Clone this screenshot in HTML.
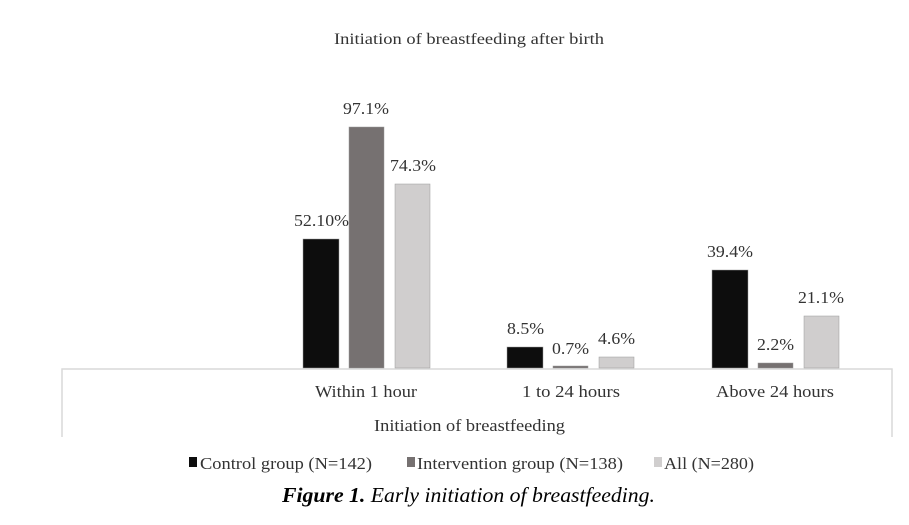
<!DOCTYPE html>
<html><head><style>
body{margin:0;background:#fff;}
svg text{font-family:"Liberation Serif",serif;fill:#333;}
</style></head><body>
<svg width="909" height="520" viewBox="0 0 909 520" xmlns="http://www.w3.org/2000/svg">
<text x="334" y="44" font-size="16" textLength="270" lengthAdjust="spacingAndGlyphs">Initiation of breastfeeding after birth</text>
<polyline points="62,437 62,369 892,369 892,437" fill="none" stroke="#d9d9d9" stroke-width="1.5"/>
<g stroke="#999" stroke-width="0.5">
<rect x="303" y="239" width="36" height="129" fill="#0d0d0d"/>
<rect x="349" y="127" width="35" height="241" fill="#767171"/>
<rect x="395" y="184" width="35" height="184" fill="#d0cece"/>
<rect x="507" y="347" width="36" height="21" fill="#0d0d0d"/>
<rect x="553" y="366" width="35" height="2" fill="#767171"/>
<rect x="599" y="357" width="35" height="11" fill="#d0cece"/>
<rect x="712" y="270" width="36" height="98" fill="#0d0d0d"/>
<rect x="758" y="363" width="35" height="5" fill="#767171"/>
<rect x="804" y="316" width="35" height="52" fill="#d0cece"/>
</g>
<g font-size="17">
<text x="294" y="226" textLength="55" lengthAdjust="spacingAndGlyphs">52.10%</text>
<text x="343" y="114" textLength="46" lengthAdjust="spacingAndGlyphs">97.1%</text>
<text x="390" y="171" textLength="46" lengthAdjust="spacingAndGlyphs">74.3%</text>
<text x="507" y="334" textLength="37" lengthAdjust="spacingAndGlyphs">8.5%</text>
<text x="552" y="354" textLength="37" lengthAdjust="spacingAndGlyphs">0.7%</text>
<text x="598" y="344" textLength="37" lengthAdjust="spacingAndGlyphs">4.6%</text>
<text x="707" y="257" textLength="46" lengthAdjust="spacingAndGlyphs">39.4%</text>
<text x="757" y="350" textLength="37" lengthAdjust="spacingAndGlyphs">2.2%</text>
<text x="798" y="303" textLength="46" lengthAdjust="spacingAndGlyphs">21.1%</text>
<text x="315" y="397" textLength="102" lengthAdjust="spacingAndGlyphs">Within 1 hour</text>
<text x="522" y="397" textLength="98" lengthAdjust="spacingAndGlyphs">1 to 24 hours</text>
<text x="716" y="397" textLength="118" lengthAdjust="spacingAndGlyphs">Above 24 hours</text>
<text x="374" y="431" textLength="191" lengthAdjust="spacingAndGlyphs">Initiation of breastfeeding</text>
</g>
<g font-size="17">
<rect x="189" y="457" width="8" height="10" fill="#0d0d0d"/>
<text x="200" y="469" textLength="172" lengthAdjust="spacingAndGlyphs">Control group (N=142)</text>
<rect x="407" y="457" width="8" height="10" fill="#767171"/>
<text x="417" y="469" textLength="206" lengthAdjust="spacingAndGlyphs">Intervention group (N=138)</text>
<rect x="654" y="457" width="8" height="10" fill="#d0cece"/>
<text x="664" y="469" textLength="90" lengthAdjust="spacingAndGlyphs">All (N=280)</text>
</g>
<text x="282" y="502" font-size="21" font-style="italic" style="fill:#000" textLength="373" lengthAdjust="spacingAndGlyphs"><tspan font-weight="bold">Figure 1.</tspan> Early initiation of breastfeeding.</text>
</svg>
</body></html>
